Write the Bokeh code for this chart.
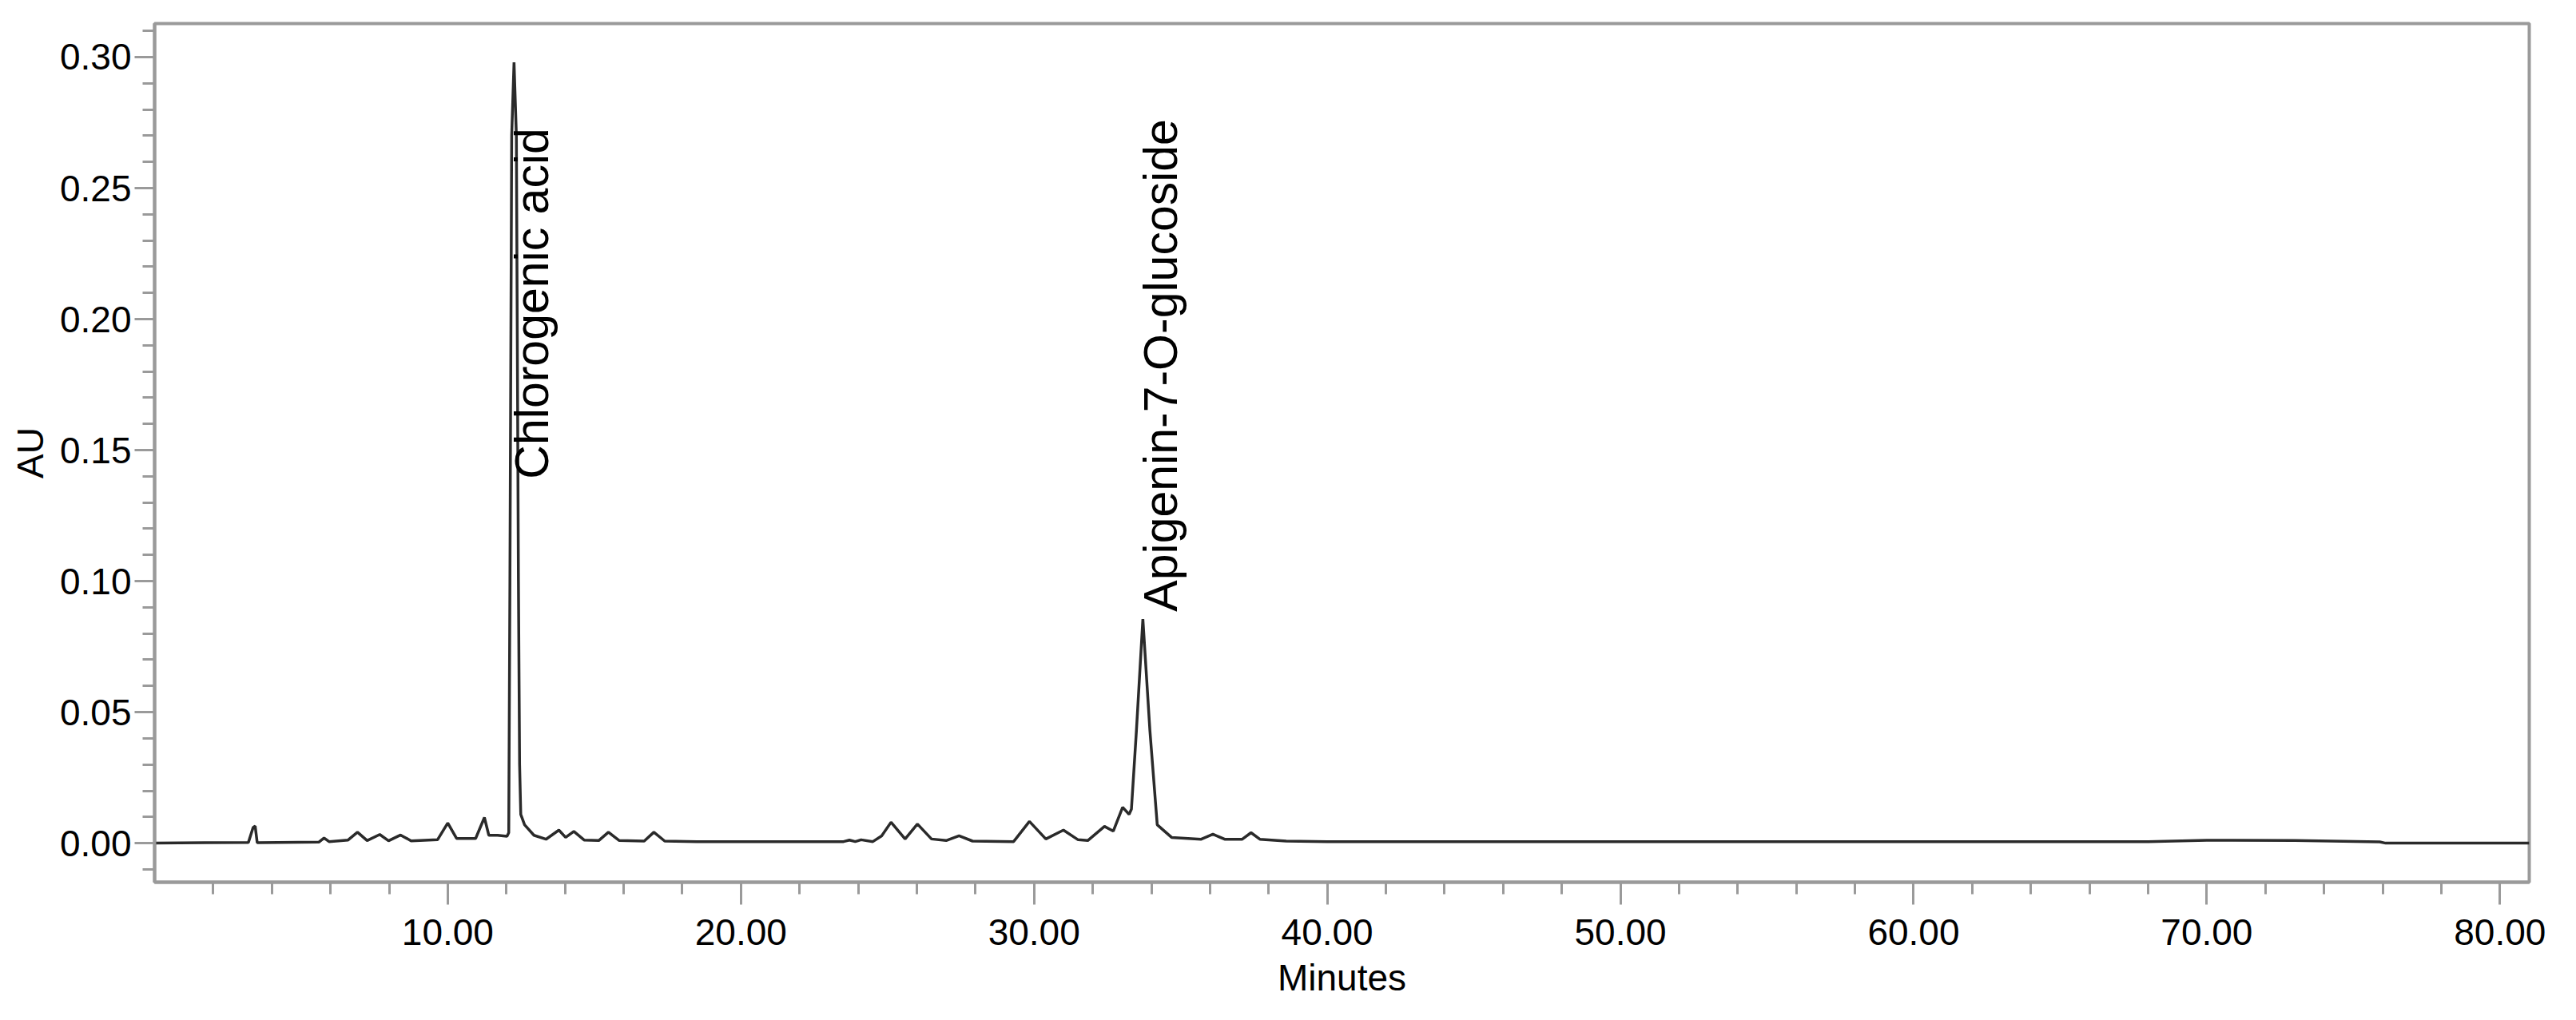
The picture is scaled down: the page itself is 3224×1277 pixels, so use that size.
import math
from bokeh.plotting import figure
from bokeh.models import FixedTicker, NumeralTickFormatter, Range1d, ColumnDataSource
from bokeh.core.properties import value
from bokeh.embed import file_html
from bokeh.resources import INLINE

# ---- chromatogram trace (retention time in minutes, absorbance in AU) ----
time_min = [
    0.0, 3.2, 3.36, 3.43, 3.5, 5.6, 5.78, 5.95,
    6.6, 6.92, 7.25, 7.68, 7.98, 8.39, 8.75,
    9.65, 10.0, 10.3, 10.95, 11.25, 11.4, 11.7, 12.02,
    12.08, 12.12, 12.18, 12.26, 12.34, 12.41, 12.45, 12.49, 12.62, 12.94, 13.35,
    13.79, 14.02, 14.3, 14.65, 15.15, 15.48, 15.85, 16.7, 17.03, 17.4,
    18.5, 23.5, 23.7, 23.9, 24.1, 24.5, 24.8, 25.12, 25.6, 26.02, 26.5,
    27.0, 27.44, 27.9, 29.3, 29.84, 30.4, 31.0, 31.5, 31.83, 32.4, 32.7,
    33.02, 33.24, 33.32, 33.49, 33.71, 33.95, 34.2, 34.69, 35.7, 36.1,
    36.5, 37.1, 37.4, 37.7, 38.6, 40.0, 55.0, 68.0, 70.0, 73.0, 75.9,
    76.1, 81.0,
]
absorbance = [
    0.0, 0.0003, 0.006, 0.0065, 0.0002, 0.0004, 0.002, 0.0006,
    0.0012, 0.0042, 0.001, 0.0033, 0.0009, 0.0031, 0.0009,
    0.0013, 0.0077, 0.0018, 0.0018, 0.0098, 0.003, 0.003, 0.0026,
    0.004, 0.1, 0.27, 0.298, 0.27, 0.1, 0.03, 0.011, 0.007, 0.003, 0.0015,
    0.005, 0.0022, 0.0045, 0.0012, 0.001, 0.0042, 0.001, 0.0008, 0.0042, 0.0008,
    0.0006, 0.0006, 0.0012, 0.0006, 0.0013, 0.0006, 0.0028, 0.008, 0.0016, 0.0073, 0.0016,
    0.001, 0.0028, 0.0008, 0.0006, 0.0083, 0.0016, 0.005, 0.0013, 0.001, 0.0064, 0.0046,
    0.0137, 0.011, 0.013, 0.043, 0.0855, 0.043, 0.007, 0.0022, 0.0015, 0.0034,
    0.0015, 0.0015, 0.004, 0.0015, 0.0008, 0.0006, 0.0006, 0.0006, 0.0011, 0.001, 0.0005,
    0.0, 0.0,
]

# ---- peak annotations ----
peak_names = ["Chlorogenic acid", "Apigenin-7-O-glucoside"]
peak_time = [12.26, 33.71]
label_start_au = [0.139, 0.0884]

# ---- axes ticks ----
x_major = [10, 20, 30, 40, 50, 60, 70, 80]
x_minor = [t for t in range(2, 81, 2) if t % 10 != 0]
y_major = [0.0, 0.05, 0.10, 0.15, 0.20, 0.25, 0.30]
y_minor = [round(-0.01 + 0.01 * i, 2) for i in range(33)]

FONT = "Liberation Sans"
GREY = "#9a9a9a"

p = figure(
    frame_width=2972, frame_height=1075,
    min_border_left=193, min_border_top=29, min_border_right=40, min_border_bottom=150,
    x_range=Range1d(0, 81), y_range=Range1d(-0.0149, 0.3128),
    output_backend="svg", toolbar_location=None,
    x_axis_label="Minutes", y_axis_label="AU",
)
p.grid.visible = False
p.outline_line_color = GREY
p.outline_line_width = 4
p.background_fill_color = "white"

p.xaxis.ticker = FixedTicker(ticks=x_major, minor_ticks=x_minor)
p.yaxis.ticker = FixedTicker(ticks=y_major, minor_ticks=y_minor)
p.xaxis.formatter = NumeralTickFormatter(format="0.00")
p.yaxis.formatter = NumeralTickFormatter(format="0.00")

for ax in (p.xaxis[0], p.yaxis[0]):
    ax.axis_line_color = GREY
    ax.axis_line_width = 4
    ax.major_tick_line_color = GREY
    ax.major_tick_line_width = 3
    ax.minor_tick_line_color = GREY
    ax.minor_tick_line_width = 3
    ax.major_tick_in = 0
    ax.minor_tick_in = 0
    ax.minor_tick_out = 15
    ax.major_label_text_font = FONT
    ax.major_label_text_font_size = "46px"
    ax.major_label_text_color = "black"
    ax.axis_label_text_font = FONT
    ax.axis_label_text_font_size = "46px"
    ax.axis_label_text_font_style = "normal"
    ax.axis_label_text_color = "black"

p.xaxis.major_tick_out = 28
p.yaxis.major_tick_out = 25
p.xaxis.major_label_standoff = 18
p.yaxis.major_label_standoff = 4
p.xaxis.axis_label_standoff = 12
p.yaxis.axis_label_standoff = 8

src = ColumnDataSource(dict(t=time_min, au=absorbance))
p.line("t", "au", source=src, line_color="#2a2a2a", line_width=3.5)

lab = ColumnDataSource(dict(t=peak_time, y=label_start_au, name=peak_names))
p.text("t", "y", text="name", source=lab, angle=math.pi / 2, x_offset=23,
       text_align="left", text_baseline="alphabetic",
       text_font=value(FONT), text_font_size=value("59px"), text_color="black")

open("out.html", "w").write(file_html(p, INLINE))
